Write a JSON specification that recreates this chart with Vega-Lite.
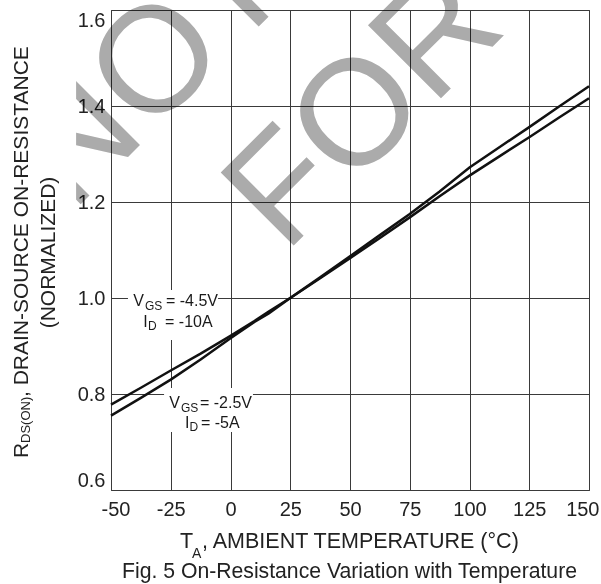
{
  "$schema": "https://vega.github.io/schema/vega-lite/v6.json",
  "autosize": {"type": "none"},
  "padding": {"left": 111, "top": 10, "right": 12, "bottom": 94},
  "width": 478,
  "height": 480,
  "background": "white",
  "config": {
    "font": "Liberation Sans",
    "view": {"stroke": "#333333", "strokeWidth": 1},
    "axis": {
      "grid": true,
      "gridColor": "#3a3a3a",
      "gridWidth": 1,
      "gridOpacity": 1,
      "domain": false,
      "ticks": false,
      "tickSize": 0,
      "labelFont": "Liberation Sans",
      "labelFontSize": 20,
      "labelColor": "#222222",
      "title": null
    }
  },
  "data": {
    "values": [
      {"kind": "wm", "x": -66.3, "y": 1.177, "label": "NOT RECOMMENDED"},
      {"kind": "wm", "x": 22.8, "y": 1.091, "label": "FOR NEW DESIGN"},

      {"kind": "mask", "x": -100, "x2": -64.6, "y": 1.0, "y2": 1.7},

      {"kind": "box", "x": -42.9, "x2": -5.2, "y": 0.9125, "y2": 1.0167},
      {"kind": "box", "x": -27.8, "x2": 9.4, "y": 0.7208, "y2": 0.8125},

      {"kind": "curve", "series": "VGS -4.5V", "x": -50, "y": 0.778},
      {"kind": "curve", "series": "VGS -4.5V", "x": -37.5, "y": 0.813},
      {"kind": "curve", "series": "VGS -4.5V", "x": -25, "y": 0.849},
      {"kind": "curve", "series": "VGS -4.5V", "x": -12.5, "y": 0.884},
      {"kind": "curve", "series": "VGS -4.5V", "x": 0, "y": 0.921},
      {"kind": "curve", "series": "VGS -4.5V", "x": 10, "y": 0.952},
      {"kind": "curve", "series": "VGS -4.5V", "x": 16, "y": 0.972},
      {"kind": "curve", "series": "VGS -4.5V", "x": 25, "y": 1.0},
      {"kind": "curve", "series": "VGS -4.5V", "x": 37.5, "y": 1.041},
      {"kind": "curve", "series": "VGS -4.5V", "x": 50, "y": 1.083},
      {"kind": "curve", "series": "VGS -4.5V", "x": 62.5, "y": 1.125},
      {"kind": "curve", "series": "VGS -4.5V", "x": 75, "y": 1.168},
      {"kind": "curve", "series": "VGS -4.5V", "x": 87.5, "y": 1.212},
      {"kind": "curve", "series": "VGS -4.5V", "x": 100, "y": 1.255},
      {"kind": "curve", "series": "VGS -4.5V", "x": 112.5, "y": 1.295},
      {"kind": "curve", "series": "VGS -4.5V", "x": 125, "y": 1.335},
      {"kind": "curve", "series": "VGS -4.5V", "x": 137.5, "y": 1.376},
      {"kind": "curve", "series": "VGS -4.5V", "x": 150, "y": 1.416},

      {"kind": "curve", "series": "VGS -2.5V", "x": -50, "y": 0.755},
      {"kind": "curve", "series": "VGS -2.5V", "x": -37.5, "y": 0.792},
      {"kind": "curve", "series": "VGS -2.5V", "x": -25, "y": 0.83},
      {"kind": "curve", "series": "VGS -2.5V", "x": -12.5, "y": 0.872},
      {"kind": "curve", "series": "VGS -2.5V", "x": 0, "y": 0.916},
      {"kind": "curve", "series": "VGS -2.5V", "x": 10, "y": 0.95},
      {"kind": "curve", "series": "VGS -2.5V", "x": 16, "y": 0.968},
      {"kind": "curve", "series": "VGS -2.5V", "x": 25, "y": 1.0},
      {"kind": "curve", "series": "VGS -2.5V", "x": 37.5, "y": 1.043},
      {"kind": "curve", "series": "VGS -2.5V", "x": 50, "y": 1.087},
      {"kind": "curve", "series": "VGS -2.5V", "x": 62.5, "y": 1.131},
      {"kind": "curve", "series": "VGS -2.5V", "x": 75, "y": 1.175},
      {"kind": "curve", "series": "VGS -2.5V", "x": 87.5, "y": 1.222},
      {"kind": "curve", "series": "VGS -2.5V", "x": 100, "y": 1.272},
      {"kind": "curve", "series": "VGS -2.5V", "x": 112.5, "y": 1.314},
      {"kind": "curve", "series": "VGS -2.5V", "x": 125, "y": 1.356},
      {"kind": "curve", "series": "VGS -2.5V", "x": 137.5, "y": 1.399},
      {"kind": "curve", "series": "VGS -2.5V", "x": 150, "y": 1.441},

      {"kind": "ann", "x": -40.67, "y": 0.9823, "label": "V"},
      {"kind": "annsub", "x": -35.77, "y": 0.976, "label": "GS"},
      {"kind": "ann", "x": -26.99, "y": 0.9823, "label": "= -4.5V"},
      {"kind": "ann", "x": -36.49, "y": 0.9402, "label": "I"},
      {"kind": "annsub", "x": -34.52, "y": 0.9333, "label": "D"},
      {"kind": "ann", "x": -27.4, "y": 0.9402, "label": "= -10A"},

      {"kind": "ann", "x": -25.61, "y": 0.7702, "label": "V"},
      {"kind": "annsub", "x": -20.71, "y": 0.7635, "label": "GS"},
      {"kind": "ann", "x": -12.76, "y": 0.7702, "label": "= -2.5V"},
      {"kind": "ann", "x": -19.04, "y": 0.7285, "label": "I"},
      {"kind": "annsub", "x": -17.15, "y": 0.7219, "label": "D"},
      {"kind": "ann", "x": -12.34, "y": 0.7285, "label": "= -5A"},

      {"kind": "xt", "x": -21.13, "y": 0.4785, "label": "T"},
      {"kind": "xtsub", "x": -16.11, "y": 0.4585, "label": "A"},
      {"kind": "xt", "x": -11.92, "y": 0.4785, "label": ", AMBIENT TEMPERATURE (°C)"},

      {"kind": "yt", "x": -84.52, "y": 0.6667, "label": "R"},
      {"kind": "ytsub", "x": -83.89, "y": 0.6979, "label": "DS(ON)"},
      {"kind": "yt", "x": -84.52, "y": 0.7938, "label": ", DRAIN-SOURCE ON-RESISTANCE"},
      {"kind": "yt2", "x": -73.43, "y": 1.0948, "label": "(NORMALIZED)"},

      {"kind": "cap", "x": 49.79, "y": 0.4173, "label": "Fig. 5 On-Resistance Variation with Temperature"}
    ]
  },
  "encoding": {
    "x": {
      "field": "x",
      "type": "quantitative",
      "scale": {"domain": [-50, 150], "nice": false, "zero": false},
      "axis": {
        "values": [-50, -25, 0, 25, 50, 75, 100, 125, 150],
        "labelExpr": "replace(datum.label, '−', '-')",
        "labelFlush": true,
        "labelFlushOffset": 10,
        "labelPadding": 9
      }
    },
    "y": {
      "field": "y",
      "type": "quantitative",
      "scale": {"domain": [0.6, 1.6], "nice": false, "zero": false},
      "axis": {"values": [0.6, 0.8, 1.0, 1.2, 1.4, 1.6], "format": ".1f", "labelFlush": true, "labelPadding": 6}
    }
  },
  "layer": [
    {
      "transform": [{"filter": "datum.kind === 'wm'"}],
      "mark": {"type": "text", "angle": 315, "align": "left", "baseline": "alphabetic", "fontSize": 150, "fill": "#ababab", "blend": "multiply"},
      "encoding": {"text": {"field": "label"}}
    },
    {
      "transform": [{"filter": "datum.kind === 'mask'"}],
      "mark": {"type": "rect", "fill": "white"},
      "encoding": {"x2": {"field": "x2"}, "y2": {"field": "y2"}}
    },
    {
      "transform": [{"filter": "datum.kind === 'box'"}],
      "mark": {"type": "rect", "fill": "white"},
      "encoding": {"x2": {"field": "x2"}, "y2": {"field": "y2"}}
    },
    {
      "transform": [{"filter": "datum.kind === 'curve'"}],
      "mark": {"type": "line", "color": "#111111", "strokeWidth": 2.5},
      "encoding": {"detail": {"field": "series"}}
    },
    {
      "transform": [{"filter": "datum.kind === 'ann'"}],
      "mark": {"type": "text", "align": "left", "baseline": "alphabetic", "fontSize": 16, "fill": "#1a1a1a"},
      "encoding": {"text": {"field": "label"}}
    },
    {
      "transform": [{"filter": "datum.kind === 'annsub'"}],
      "mark": {"type": "text", "align": "left", "baseline": "alphabetic", "fontSize": 12, "fill": "#1a1a1a"},
      "encoding": {"text": {"field": "label"}}
    },
    {
      "transform": [{"filter": "datum.kind === 'xt'"}],
      "mark": {"type": "text", "align": "left", "baseline": "alphabetic", "fontSize": 21.5, "fill": "#222222"},
      "encoding": {"text": {"field": "label"}}
    },
    {
      "transform": [{"filter": "datum.kind === 'xtsub'"}],
      "mark": {"type": "text", "align": "left", "baseline": "alphabetic", "fontSize": 14, "fill": "#222222"},
      "encoding": {"text": {"field": "label"}}
    },
    {
      "transform": [{"filter": "datum.kind === 'yt'"}],
      "mark": {"type": "text", "angle": 270, "align": "left", "baseline": "alphabetic", "fontSize": 21, "fill": "#222222"},
      "encoding": {"text": {"field": "label"}}
    },
    {
      "transform": [{"filter": "datum.kind === 'ytsub'"}],
      "mark": {"type": "text", "angle": 270, "align": "left", "baseline": "alphabetic", "fontSize": 13, "fill": "#222222"},
      "encoding": {"text": {"field": "label"}}
    },
    {
      "transform": [{"filter": "datum.kind === 'yt2'"}],
      "mark": {"type": "text", "angle": 270, "align": "center", "baseline": "alphabetic", "fontSize": 21, "fill": "#222222"},
      "encoding": {"text": {"field": "label"}}
    },
    {
      "transform": [{"filter": "datum.kind === 'cap'"}],
      "mark": {"type": "text", "align": "center", "baseline": "alphabetic", "fontSize": 21.2, "fill": "#222222"},
      "encoding": {"text": {"field": "label"}}
    }
  ]
}
